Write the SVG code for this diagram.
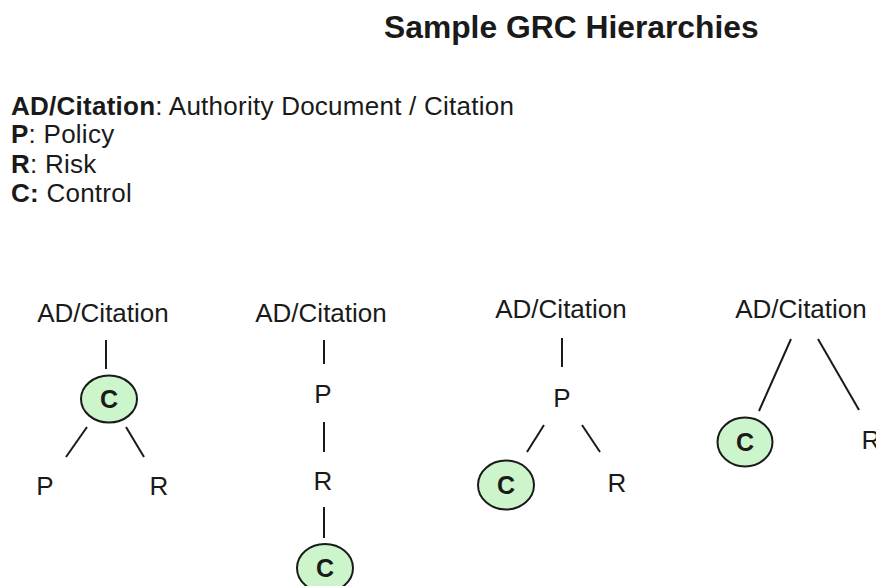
<svg xmlns="http://www.w3.org/2000/svg" width="876" height="586" viewBox="0 0 876 586">
  <style>
    text { font-family: "Liberation Sans", Arial, sans-serif; fill: #1a1a1a; }
    .title { font-size: 31.8px; font-weight: bold; }
    .legend { font-size: 26px; letter-spacing: 0.25px; }
    .b { font-weight: bold; }
    .lbl { font-size: 26px; text-anchor: middle; }
    .ctl { font-size: 25px; font-weight: bold; text-anchor: middle; }
    .ctl-shape { fill: #ccf5cc; stroke: #1a1a1a; stroke-width: 2; }
    .edge { stroke: #1a1a1a; stroke-width: 2; fill: none; }
  </style>

  <text class="title" x="384" y="38">Sample GRC Hierarchies</text>

  <g id="legend" class="legend">
    <text x="11" y="115"><tspan class="b">AD/Citation</tspan>: Authority Document / Citation</text>
    <text x="11" y="143"><tspan class="b">P</tspan>: Policy</text>
    <text x="11" y="173"><tspan class="b">R</tspan>: Risk</text>
    <text x="11" y="202"><tspan class="b">C:</tspan> Control</text>
  </g>

  <!-- Connectors -->
  <g id="connectors" class="edge">
    <!-- tree 1 -->
    <line x1="106" y1="340" x2="106" y2="369"/>
    <line x1="87" y1="427" x2="66" y2="457"/>
    <line x1="126" y1="427" x2="144" y2="457"/>
    <!-- tree 2 -->
    <line x1="324" y1="340" x2="324" y2="364"/>
    <line x1="324" y1="422" x2="324" y2="452"/>
    <line x1="324" y1="507" x2="324" y2="538"/>
    <!-- tree 3 -->
    <line x1="562" y1="338" x2="562" y2="367"/>
    <line x1="544" y1="425" x2="527" y2="452"/>
    <line x1="582" y1="425" x2="600" y2="452"/>
    <!-- tree 4 -->
    <line x1="791" y1="339" x2="759" y2="411"/>
    <line x1="818" y1="339" x2="859" y2="410"/>
  </g>

  <!-- Tree 1: AD/Citation > C > P, R -->
  <g id="t1-ad"><text class="lbl" x="103" y="322">AD/Citation</text></g>
  <g id="t1-c">
    <ellipse class="ctl-shape" cx="109" cy="399" rx="28" ry="23.5"/>
    <text class="ctl" x="109" y="408">C</text>
  </g>
  <g id="t1-p"><text class="lbl" x="45" y="495">P</text></g>
  <g id="t1-r"><text class="lbl" x="159" y="495">R</text></g>

  <!-- Tree 2: AD/Citation > P > R > C -->
  <g id="t2-ad"><text class="lbl" x="321" y="322">AD/Citation</text></g>
  <g id="t2-p"><text class="lbl" x="323" y="403">P</text></g>
  <g id="t2-r"><text class="lbl" x="323" y="490">R</text></g>
  <g id="t2-c">
    <ellipse class="ctl-shape" cx="325" cy="568" rx="28" ry="24"/>
    <text class="ctl" x="325" y="577">C</text>
  </g>

  <!-- Tree 3: AD/Citation > P > C, R -->
  <g id="t3-ad"><text class="lbl" x="561" y="318">AD/Citation</text></g>
  <g id="t3-p"><text class="lbl" x="562" y="407">P</text></g>
  <g id="t3-c">
    <ellipse class="ctl-shape" cx="506" cy="485" rx="28" ry="24.5"/>
    <text class="ctl" x="506" y="494">C</text>
  </g>
  <g id="t3-r"><text class="lbl" x="617" y="492">R</text></g>

  <!-- Tree 4: AD/Citation > C, R (R runs past the right edge) -->
  <g id="t4-ad"><text class="lbl" x="801" y="318">AD/Citation</text></g>
  <g id="t4-c">
    <ellipse class="ctl-shape" cx="745" cy="442" rx="27.5" ry="24.5"/>
    <text class="ctl" x="745" y="451">C</text>
  </g>
  <g id="t4-r"><text class="lbl" x="871" y="449">R</text></g>
</svg>
